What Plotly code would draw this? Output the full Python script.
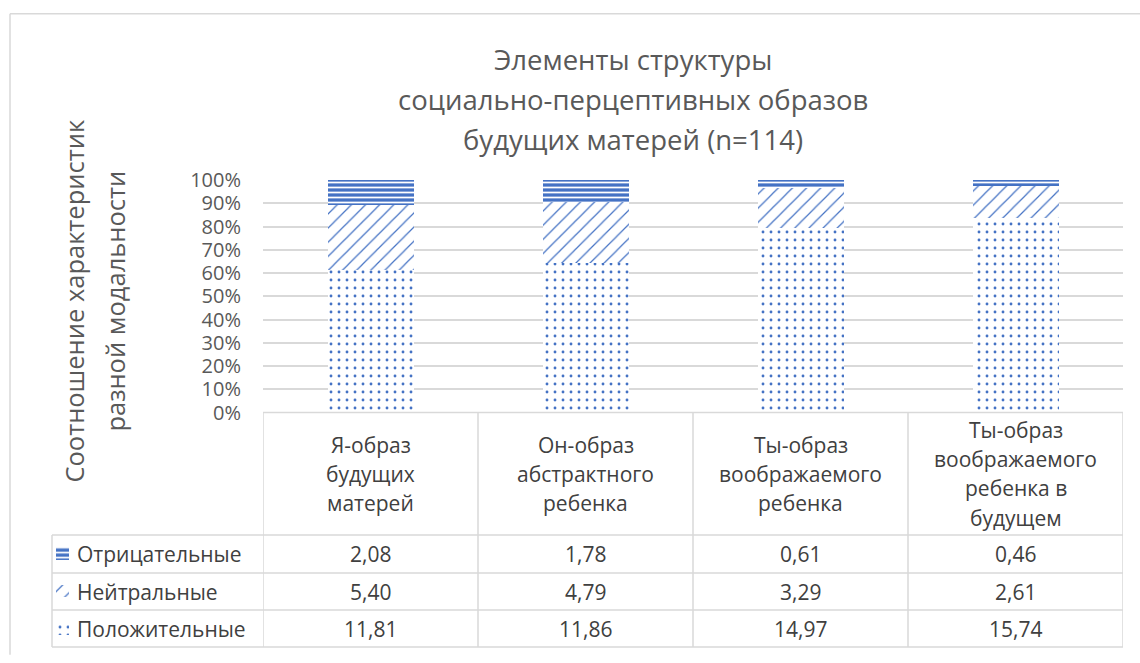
import plotly.graph_objects as go

# Categories (table header texts) and series values
categories = [
    "Я-образ<br>будущих<br>матерей",
    "Он-образ<br>абстрактного<br>ребенка",
    "Ты-образ<br>воображаемого<br>ребенка",
    "Ты-образ<br>воображаемого<br>ребенка в<br>будущем",
]
series_names = ["Отрицательные", "Нейтральные", "Положительные"]
negative = [2.08, 1.78, 0.61, 0.46]
neutral = [5.40, 4.79, 3.29, 2.61]
positive = [11.81, 11.86, 14.97, 15.74]
y_ticks = [0, 10, 20, 30, 40, 50, 60, 70, 80, 90, 100]
title_lines = ["Элементы структуры", "социально-перцептивных образов", "будущих матерей (n=114)"]
ytitle_lines = ["Соотношение характеристик", "разной модальности"]

BLUE = "#4472C4"
GRID = "#D9D9D9"
TXT = "#595959"
TBL_TXT = "#404040"
FONT = "Open Sans"

W, H = 1140, 663
M_L, M_R, M_T, M_B = 52, 17, 180, 3
PLOT_LEFT = 263      # left edge of the bar area, px
PLOT_BOTTOM = 419    # 0% line, px
ROW_LINES = [545, 584, 622, 660]
HDR_LINE_STEP = 30   # line spacing of the header cells, px


def px_x(p):
    return (p - M_L) / (W - M_L - M_R)


def px_y(p):
    return (H - M_B - p) / (H - M_T - M_B)


patterns = {
    "Положительные": dict(shape=".", fgcolor=BLUE, bgcolor="white", size=8, solidity=0.1, fillmode="replace"),
    "Нейтральные": dict(shape="/", fgcolor=BLUE, bgcolor="white", size=10, solidity=0.12, fillmode="replace"),
    "Отрицательные": dict(shape="-", fgcolor="white", bgcolor=BLUE, size=5, solidity=0.35, fillmode="replace"),
}
values = {"Отрицательные": negative, "Нейтральные": neutral, "Положительные": positive}

fig = go.Figure()
xs = list(range(len(categories)))
for name in ["Положительные", "Нейтральные", "Отрицательные"]:
    fig.add_trace(go.Bar(
        x=xs, y=values[name], name=name, width=0.4,
        marker=dict(color="white", line=dict(width=0), pattern=patterns[name]),
        showlegend=False, hoverinfo="skip",
    ))

# legend keys inside the data table
for i, name in enumerate(series_names):
    fig.add_trace(go.Bar(
        x=[1], y=[i], orientation="h", width=0.34, xaxis="x2", yaxis="y2",
        marker=dict(color="white", line=dict(width=0), pattern=patterns[name]),
        showlegend=False, hoverinfo="skip",
    ))

fig.update_layout(
    width=W, height=H,
    margin=dict(l=M_L, r=M_R, t=M_T, b=M_B),
    paper_bgcolor="white", plot_bgcolor="white",
    barmode="stack", barnorm="percent", bargap=0.6,
    font=dict(family=FONT, color=TXT),
    xaxis=dict(domain=[px_x(PLOT_LEFT), 1], range=[-0.5, len(categories) - 0.5],
               showticklabels=False, showgrid=False, zeroline=False, showline=False, ticks=""),
    yaxis=dict(domain=[px_y(PLOT_BOTTOM), 1], range=[0, 100], tickmode="array",
               tickvals=y_ticks, ticktext=[f"{v}%" for v in y_ticks],
               showgrid=True, gridcolor=GRID, gridwidth=1.5,
               zeroline=False, showline=False, ticks="", ticklabelstandoff=21,
               tickfont=dict(size=20, color=TXT, family=FONT)),
    xaxis2=dict(domain=[px_x(56), px_x(69)], range=[0, 1], visible=False),
    yaxis2=dict(domain=[0, px_y(ROW_LINES[0])], range=[len(series_names) - 0.5, -0.5], visible=False),
)

shapes = []
line = dict(color=GRID, width=1.5)
# chart frame (left and top)
shapes.append(dict(type="line", xref="paper", yref="paper", x0=px_x(10), x1=px_x(W), y0=px_y(9), y1=px_y(9), line=line))
shapes.append(dict(type="line", xref="paper", yref="paper", x0=px_x(10), x1=px_x(10), y0=px_y(9), y1=px_y(H + 5), line=line))
# table grid
shapes.append(dict(type="line", xref="paper", yref="paper", x0=px_x(PLOT_LEFT), x1=1, y0=px_y(PLOT_BOTTOM), y1=px_y(PLOT_BOTTOM), line=line))
for r in ROW_LINES:
    shapes.append(dict(type="line", xref="paper", yref="paper", x0=0, x1=1, y0=px_y(r), y1=px_y(r), line=line))
shapes.append(dict(type="line", xref="paper", yref="paper", x0=0, x1=0, y0=px_y(ROW_LINES[0]), y1=px_y(ROW_LINES[-1]), line=line))
for k in range(len(categories) + 1):
    shapes.append(dict(type="line", xref="x", yref="paper", x0=k - 0.5, x1=k - 0.5,
                       y0=px_y(PLOT_BOTTOM), y1=px_y(ROW_LINES[-1]), line=line))
fig.update_layout(shapes=shapes)

ann = []
# title
for i, t in enumerate(title_lines):
    ann.append(dict(text=t, xref="paper", yref="paper", x=px_x(633), y=px_y(56 + 41 * i),
                    showarrow=False, xanchor="center", yanchor="middle",
                    font=dict(size=27.5, color=TXT, family=FONT)))
# vertical axis title
for i, t in enumerate(ytitle_lines):
    ann.append(dict(text=t, xref="paper", yref="paper", x=px_x(74 + 41 * i), y=px_y(305),
                    textangle=-90, showarrow=False, xanchor="center", yanchor="middle",
                    font=dict(size=25.5, color=TXT, family=FONT)))
# header row: each category label is set line by line
hdr_mid = (PLOT_BOTTOM + ROW_LINES[0]) / 2
for k, c in enumerate(categories):
    parts = c.split("<br>")
    for j, part in enumerate(parts):
        yp = hdr_mid + (j - (len(parts) - 1) / 2) * HDR_LINE_STEP
        ann.append(dict(text=part, xref="x", yref="paper", x=k, y=px_y(yp), showarrow=False,
                        xanchor="center", yanchor="middle", align="center",
                        font=dict(size=21, color=TBL_TXT, family=FONT)))
# data rows
for i, name in enumerate(series_names):
    yc = px_y((ROW_LINES[i] + ROW_LINES[i + 1]) / 2)
    ann.append(dict(text=name, xref="paper", yref="paper", x=px_x(75), y=yc, showarrow=False,
                    xanchor="left", yanchor="middle", font=dict(size=21, color=TBL_TXT, family=FONT)))
    for k, v in enumerate(values[name]):
        ann.append(dict(text=f"{v:.2f}".replace(".", ","), xref="x", yref="paper", x=k, y=yc,
                        showarrow=False, xanchor="center", yanchor="middle",
                        font=dict(size=21, color=TBL_TXT, family=FONT)))
fig.update_layout(annotations=ann)

fig.write_html("out.html")
